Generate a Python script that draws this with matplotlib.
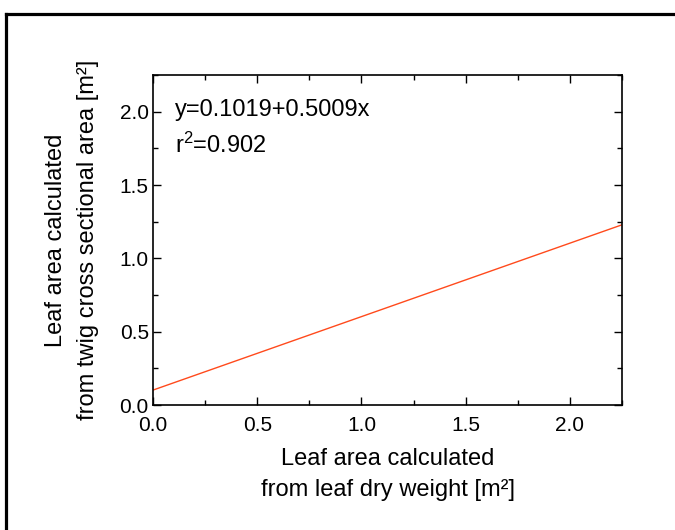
import matplotlib
matplotlib.use('Agg')
import matplotlib.pyplot as plt
from matplotlib.lines import Line2D
from matplotlib.ticker import MultipleLocator

plt.rcParams['font.family'] = ['Liberation Sans', 'DejaVu Sans']
plt.rcParams['mathtext.default'] = 'regular'

# fitted line endpoints (y = 0.1019 + 0.5009x)
x_fit = [0.0, 2.25]
y_fit = [0.1019, 1.2289]
eq_text = 'y=0.1019+0.5009x'
r2_text = 'r$^{2}$=0.902'

fig = plt.figure(figsize=(6.75, 5.3), dpi=100)
ax = fig.add_axes([0.2267, 0.2358, 0.6948, 0.6226])

ax.plot(x_fit, y_fit, color='#ff4a1c', lw=1.0)

ax.set_xlim(0, 2.25)
ax.set_ylim(0, 2.25)
ax.xaxis.set_major_locator(MultipleLocator(0.5))
ax.xaxis.set_minor_locator(MultipleLocator(0.25))
ax.yaxis.set_major_locator(MultipleLocator(0.5))
ax.yaxis.set_minor_locator(MultipleLocator(0.25))
ax.tick_params(which='both', direction='in', top=True, right=True,
               width=1.0, labelsize=15)
ax.tick_params(which='major', length=6)
ax.tick_params(which='minor', length=3.5)
ax.tick_params(axis='x', which='major', pad=8)
ax.tick_params(axis='y', which='major', pad=3)
for s in ax.spines.values():
    s.set_linewidth(1.2)

ax.set_xlabel('Leaf area calculated\nfrom leaf dry weight [m²]', fontsize=17,
              labelpad=9, linespacing=1.55)
ax.set_ylabel('Leaf area calculated\nfrom twig cross sectional area [m²]', fontsize=17,
              labelpad=15, linespacing=1.55)

ax.text(0.047, 0.894, eq_text, transform=ax.transAxes, fontsize=17, va='center')
ax.text(0.047, 0.788, r2_text, transform=ax.transAxes, fontsize=17, va='center')

# frame around the figure (runs off the right and bottom edges)
fig.add_artist(Line2D([0.0093, 1.05], [0.9745, 0.9745], transform=fig.transFigure,
                      color='black', lw=2.3))
fig.add_artist(Line2D([0.0093, 0.0093], [-0.05, 0.9745], transform=fig.transFigure,
                      color='black', lw=2.3))

fig.savefig('out.png', dpi=100)
